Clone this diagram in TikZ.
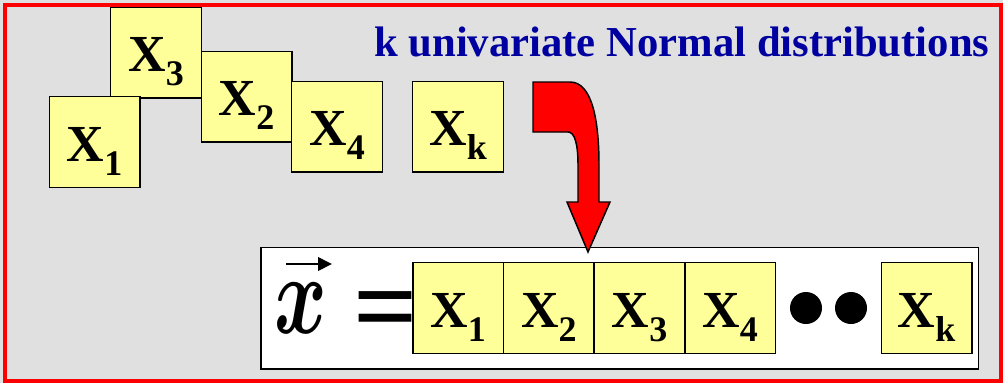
\documentclass[tikz,border=0pt]{standalone}
\usepackage{fontspec}
\usepackage{bm}
\setmainfont{Liberation Serif}
\usetikzlibrary{arrows.meta}
\definecolor{boxyellow}{RGB}{255,255,153}
\definecolor{titleblue}{RGB}{0,0,160}
\definecolor{bggray}{RGB}{224,224,224}
\newcommand\Xsub[1]{X\raisebox{-10.5pt}{\fontsize{27}{27}\selectfont\bfseries #1}}
\begin{document}
\begin{tikzpicture}[x=0.75pt,y=-0.75pt,
  varbox/.style={draw=black, line width=1.1pt, fill=boxyellow, minimum width=67.9pt,
    minimum height=67.9pt, inner sep=0pt, text height=28.5pt, text depth=0pt,
    font=\fontsize{39}{39}\selectfont\bfseries},
  dotnode/.style={circle, fill=black, minimum size=24pt, inner sep=0pt},
  redarrow/.style={fill=red, draw=black, line width=1.1pt, line join=miter},
]
\fill[bggray] (0,0) rectangle (1003,383);
\useasboundingbox (0,0) rectangle (1003,383);
\draw[red, line width=3pt] (4.5,5.3) rectangle (1001,381);

% scattered variables
\node[varbox] (t3) at (156,52.5) {\Xsub{3}};
\node[varbox] (t1) at (94.5,142) {\Xsub{1}};
\node[varbox] (t2) at (246.5,96.5) {\Xsub{2}};
\node[varbox] (t4) at (337,126.5) {\Xsub{4}};
\node[varbox] (tk) at (458,126.5) {\Xsub{k}};

\node[anchor=base west, inner sep=0pt, text=titleblue, font=\fontsize{32}{32}\selectfont\bfseries]
  (title) at (374,56) {k univariate Normal distributions};

% vector box
\node[draw=black, line width=1.1pt, fill=white, minimum width=538pt, minimum height=91.3pt, inner sep=0pt]
  (vecbox) at (619.65,308.15) {};
\node[anchor=base west, inner sep=0pt] (xv) at (274,333) {\scalebox{6.0}[8.5]{$\bm{x}$}};
\coordinate (avs) at (286,264);
\coordinate (ave) at (332,264);
\draw[line width=2pt, -{Triangle[length=10.5pt,width=10pt]}] (avs) -- (ave);
\node[anchor=base west, inner sep=0pt, font=\fontsize{85}{85}\selectfont\bfseries] (eq) at (353,344) {=};

\node[varbox] (b1) at (458.2,308) {\Xsub{1}};
\node[varbox] (b2) at (548.9,308) {\Xsub{2}};
\node[varbox] (b3) at (639.6,308) {\Xsub{3}};
\node[varbox] (b4) at (730.2,308) {\Xsub{4}};
\node[varbox] (bk) at (926.6,308) {\Xsub{k}};
\node[dotnode] (d1) at (806,308) {};
\node[dotnode] (d2) at (851,308) {};

% curved red arrow
\draw[redarrow] (533,82) -- (570,82) .. controls (592,82) and (599,120) .. (599,165)
  -- (599,202) -- (610,202) -- (588,252) -- (567,202) -- (578,202) -- (578,165)
  .. controls (578,145) and (575,132) .. (568,132) -- (533,132) -- cycle;
\end{tikzpicture}
\end{document}
